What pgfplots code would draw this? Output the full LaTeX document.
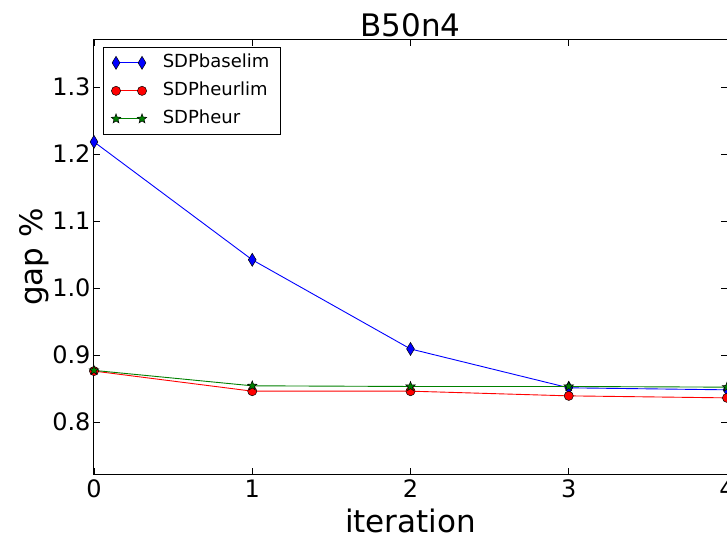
\documentclass[border=0pt]{standalone}
\usepackage{pgfplots}
\pgfplotsset{compat=1.18}
\usepackage{fontspec}
\setmainfont{DejaVu Sans}
\makeatletter
\pgfdeclareplotmark{fstar}{%
  \pgfpathmoveto{\pgfqpointpolar{90}{\pgfplotmarksize}}%
  \pgfpathlineto{\pgfqpointpolar{126}{0.42\pgfplotmarksize}}%
  \pgfpathlineto{\pgfqpointpolar{162}{\pgfplotmarksize}}%
  \pgfpathlineto{\pgfqpointpolar{198}{0.42\pgfplotmarksize}}%
  \pgfpathlineto{\pgfqpointpolar{234}{\pgfplotmarksize}}%
  \pgfpathlineto{\pgfqpointpolar{270}{0.42\pgfplotmarksize}}%
  \pgfpathlineto{\pgfqpointpolar{306}{\pgfplotmarksize}}%
  \pgfpathlineto{\pgfqpointpolar{342}{0.42\pgfplotmarksize}}%
  \pgfpathlineto{\pgfqpointpolar{18}{\pgfplotmarksize}}%
  \pgfpathlineto{\pgfqpointpolar{54}{0.42\pgfplotmarksize}}%
  \pgfpathclose
  \pgfusepathqfillstroke}
\makeatother
\begin{document}
\begin{tikzpicture}[x=1pt,y=1pt]
\begin{axis}[
  at={(0,0)}, anchor=south west,
  scale only axis,
  width=633pt, height=434pt,
  xmin=0, xmax=4, ymin=0.7224, ymax=1.37,
  xtick={0,1,2,3,4},
  ytick={0.8,0.9,1.0,1.1,1.2,1.3},
  yticklabel style={/pgf/number format/.cd,fixed,fixed zerofill,precision=1},
  /pgf/number format/assume math mode=true,
  tick label style={font=\fontsize{24}{24}\selectfont},
  xticklabel style={yshift=-2pt},
  tick align=inside,
  major tick length=6pt,
  tick style={black, line width=0.8pt},
  axis line style={line width=1pt},
  title={B50n4},
  title style={font=\fontsize{31}{31}\selectfont, yshift=-6pt},
  xlabel={iteration},
  ylabel={gap \%},
  xlabel style={font=\fontsize{31}{31}\selectfont, yshift=-4pt},
  ylabel style={font=\fontsize{31}{31}\selectfont, yshift=-4pt},
  legend style={font=\fontsize{18}{20}\selectfont, draw=black, line width=0.8pt,
    at={(0.014,0.984)}, anchor=north west, row sep=9pt, inner xsep=8pt, inner ysep=6pt,
    nodes={inner ysep=0.5pt, inner xsep=3pt, text height=14pt, text depth=4pt},
    /tikz/every odd column/.append style={column sep=13pt}},
  legend cell align=left,
  legend image code/.code={\draw[mark repeat=2,mark phase=1,#1] plot coordinates {(0pt,0pt) (13pt,0pt) (26pt,0pt)};},
  clip=false,
]
\addplot[blue, line width=0.9pt, mark=diamond*, mark size=6.5pt, mark options={fill=blue, draw=black, line width=0.5pt, xscale=0.8}]
  coordinates {(0,1.218) (1,1.042) (2,0.909) (3,0.851) (4,0.848)};
\addlegendentry{SDPbaselim}
\addplot[red, line width=0.9pt, mark=*, mark size=4.6pt, mark options={fill=red, draw=black, line width=0.5pt}]
  coordinates {(0,0.876) (1,0.846) (2,0.846) (3,0.839) (4,0.836)};
\addlegendentry{SDPheurlim}
\addplot[black!50!green, line width=0.9pt, mark=fstar, mark size=5pt, mark options={draw=black, fill=black!50!green, line width=0.5pt}]
  coordinates {(0,0.877) (1,0.854) (2,0.853) (3,0.853) (4,0.852)};
\addlegendentry{SDPheur}
\end{axis}
\pgfresetboundingbox
\path[use as bounding box] (-94,-70) rectangle (633,474);
\end{tikzpicture}
\end{document}
